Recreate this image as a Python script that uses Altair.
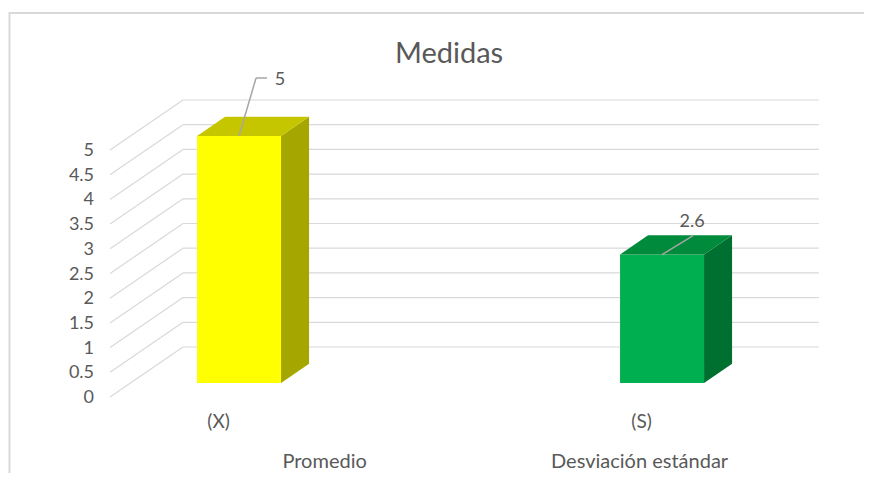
import altair as alt
import pandas as pd

# ---- data ----
categories = ["(X)", "(S)"]
groups = ["Promedio", "Desviación estándar"]
values = [5, 2.6]
value_labels = ["5", "2.6"]
ticks = [0, 0.5, 1, 1.5, 2, 2.5, 3, 3.5, 4, 4.5, 5]
tick_labels = ["0", "0.5", "1", "1.5", "2", "2.5", "3", "3.5", "4", "4.5", "5"]

# ---- style ----
front_colors = ["#FFFF00", "#00B050"]
top_colors = ["#C6C600", "#008A3C"]
side_colors = ["#A6A600", "#007030"]
GRID = "#D9D9D9"
TEXT = "#595959"
FONT = "Lato"

W, H = 856, 465
PX_PER_CAT = 423.0
X_RANGE = [210.6, 210.6 + PX_PER_CAT]
Y_RANGE = [389, 142]            # pixel rows of value 0 and 5 on front plane
PX_PER_UNIT = (Y_RANGE[0] - Y_RANGE[1]) / 5.0
DX = 73 / PX_PER_CAT            # full depth shift (x units)
DY = 50 / PX_PER_UNIT           # full depth shift (value units)
XL, XR = -0.2567, 1.2468        # wall extents on front plane
BAR_W = 84 / PX_PER_CAT
D0, D1 = 0.28, 0.664            # bar depth range
# label offsets in pixels (leader end, text) relative to bar top-front middle
leader_end = [(17, -58), (31, -19)]
leader_hook = [(28, -58), (31, -19)]
text_off = [(41, -56), (30, -33)]
group_off = [106, -2]

xs = alt.Scale(domain=[0, 1], range=X_RANGE)
ys = alt.Scale(domain=[0, 5], range=Y_RANGE)


def X(f, t="quantitative"):
    return alt.X(f, type=t, scale=xs, axis=None)


def Y(f):
    return alt.Y(f, type="quantitative", scale=ys, axis=None)


# ---- tables ----
grid = pd.DataFrame({"t": ticks, "lab": tick_labels})
grid["bx1"] = XL + DX
grid["bx2"] = XR + DX
grid["by"] = grid["t"] + DY
grid["sx1"] = XL
grid["sx2"] = XL + DX

bars = pd.DataFrame({"i": range(len(values)), "v": values, "cat": categories,
                     "grp": groups, "lab": value_labels,
                     "front": front_colors, "top": top_colors, "side": side_colors})
bars["fx1"] = bars["i"] - BAR_W / 2 + D0 * DX
bars["fx2"] = bars["i"] + BAR_W / 2 + D0 * DX
bars["fy1"] = D0 * DY
bars["fy2"] = bars["v"] + D0 * DY
bars["mx"] = bars["i"] + D0 * DX
bars["lx"] = bars["mx"] + [o[0] / PX_PER_CAT for o in leader_end]
bars["ly"] = bars["fy2"] - pd.Series([o[1] / PX_PER_UNIT for o in leader_end])
bars["hx"] = bars["mx"] + [o[0] / PX_PER_CAT for o in leader_hook]
bars["tx"] = bars["mx"] + [o[0] / PX_PER_CAT for o in text_off]
bars["ty"] = bars["fy2"] - pd.Series([o[1] / PX_PER_UNIT for o in text_off])
bars["gx"] = bars["i"] + pd.Series([o / PX_PER_CAT for o in group_off])

side_rows, top_rows = [], []
for _, b in bars.iterrows():
    for d in (D0, D1):
        side_rows.append({"k": b["i"], "x": b["i"] + BAR_W / 2 + d * DX,
                          "y": b["v"] + d * DY, "y2": d * DY, "c": b["side"]})
        top_rows.append({"k": b["i"], "y": b["v"] + d * DY,
                         "x": b["i"] - BAR_W / 2 + d * DX,
                         "x2": b["i"] + BAR_W / 2 + d * DX, "c": b["top"]})
side = pd.DataFrame(side_rows)
top = pd.DataFrame(top_rows)

# ---- layers ----
frame_top = alt.Chart(pd.DataFrame({"a": [0]})).mark_rule(color=GRID, strokeWidth=2).encode(
    x=alt.value(1), x2=alt.value(W + 8), y=alt.value(5))
frame_left = alt.Chart(pd.DataFrame({"a": [0]})).mark_rule(color=GRID, strokeWidth=2).encode(
    x=alt.value(1.5), y=alt.value(4), y2=alt.value(H + 8))

back = alt.Chart(grid).mark_rule(color=GRID, strokeWidth=1.2).encode(
    x=X("bx1"), x2="bx2", y=Y("by"))
diag = alt.Chart(grid).mark_rule(color=GRID, strokeWidth=1.2).encode(
    x=X("sx1"), x2="sx2", y=Y("t"), y2="by")
ylabels = alt.Chart(grid).mark_text(align="right", baseline="middle", dx=-16, dy=1,
                                    font=FONT, fontSize=18, color=TEXT).encode(
    x=X("sx1"), y=Y("t"), text="lab")

front = alt.Chart(bars).mark_rect().encode(
    x=X("fx1"), x2="fx2", y=Y("fy1"), y2="fy2",
    color=alt.Color("front:N", scale=None))
side_m = alt.Chart(side).mark_area(orient="vertical").encode(
    x=X("x"), y=Y("y"), y2="y2", color=alt.Color("c:N", scale=None), detail="k:N")
top_m = alt.Chart(top).mark_area(orient="horizontal").encode(
    y=Y("y"), x=X("x"), x2="x2", color=alt.Color("c:N", scale=None), detail="k:N")

leader = alt.Chart(bars).mark_rule(color="#A6A6A6", strokeWidth=1.5).encode(
    x=X("mx"), x2="lx", y=Y("fy2"), y2="ly")
hook = alt.Chart(bars).mark_rule(color="#A6A6A6", strokeWidth=1.5).encode(
    x=X("lx"), x2="hx", y=Y("ly"))
vlabels = alt.Chart(bars).mark_text(font=FONT, fontSize=18, color=TEXT,
                                    baseline="middle").encode(
    x=X("tx"), y=Y("ty"), text="lab")
catlabels = alt.Chart(bars).mark_text(font=FONT, fontSize=19, color=TEXT,
                                      baseline="alphabetic").encode(
    x=X("i"), y=alt.value(420), text="cat")
grplabels = alt.Chart(bars).mark_text(font=FONT, fontSize=20, color=TEXT,
                                      baseline="alphabetic").encode(
    x=X("gx"), y=alt.value(460), text="grp")
title = alt.Chart(pd.DataFrame({"t": ["Medidas"]})).mark_text(
    font=FONT, fontSize=29, color=TEXT, baseline="alphabetic").encode(
    x=alt.value(441), y=alt.value(55), text="t")

chart = alt.layer(frame_top, frame_left, back, diag, ylabels, front, side_m, top_m,
                  leader, hook, vlabels, catlabels, grplabels, title).properties(
    width=W, height=H, padding=0, autosize=alt.AutoSizeParams(type="none"),
    background="white").configure_view(stroke=None)

chart.save("out.html", embed_options={"renderer": "svg", "actions": False})
